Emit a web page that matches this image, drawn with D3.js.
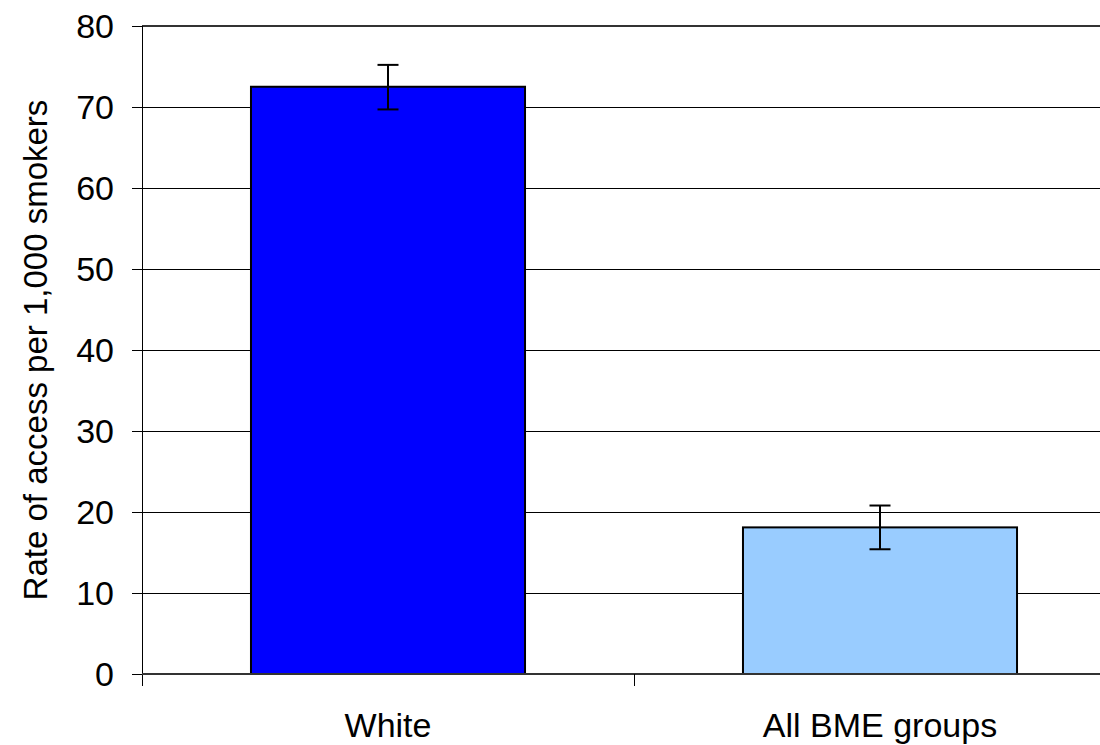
<!DOCTYPE html>
<html>
<head>
<meta charset="utf-8">
<script src="https://cdn.jsdelivr.net/npm/d3@7"></script>
<style>
  body { margin: 0; background: #fff; }
  text { font-family: "Liberation Sans", Arial, sans-serif; }
</style>
</head>
<body>
<div id="chart"></div>
<script>
// Chart data
const categories = ['White', 'All BME groups'];
const rates = [72.5, 18.1];
const errLow = [69.7, 15.4];
const errHigh = [75.2, 20.8];
const barColors = ['#0000FF', '#99CCFF'];
const yTicks = [0, 10, 20, 30, 40, 50, 60, 70, 80];

const W = 1100, H = 745;
const margin = { top: 26, right: -26, bottom: 71, left: 142 };
const width = W - margin.left - margin.right;
const height = H - margin.top - margin.bottom;

const svg = d3.select('#chart')
    .append('svg')
    .attr('width', W)
    .attr('height', H)
    .append('g')
    .attr('transform', `translate(${margin.left},${margin.top})`);

// Scales
const x = d3.scaleBand()
    .domain(categories)
    .range([0, width])
    .paddingInner(0.443)
    .paddingOuter(0.2215);

const y = d3.scaleLinear()
    .domain([0, 80])
    .range([height, 0]);

// Grid lines
svg.append('g')
    .attr('shape-rendering', 'crispEdges')
    .selectAll('line')
    .data(yTicks.filter(d => d > 0))
    .join('line')
    .attr('x1', 0)
    .attr('x2', width)
    .attr('y1', d => y(d))
    .attr('y2', d => y(d))
    .attr('stroke', d => d === 80 ? '#333' : '#000')
    .attr('stroke-width', d => d === 80 ? 2 : 1);

// Bars
svg.selectAll('.bar')
    .data(categories)
    .join('rect')
    .attr('class', 'bar')
    .attr('x', d => x(d))
    .attr('y', (d, i) => y(rates[i]))
    .attr('width', x.bandwidth())
    .attr('height', (d, i) => height - y(rates[i]))
    .attr('fill', (d, i) => barColors[i])
    .attr('stroke', '#000')
    .attr('stroke-width', 2);

// Error bars
const cap = 10.5;
const err = svg.append('g').attr('stroke', '#000').attr('stroke-width', 2);
categories.forEach((c, i) => {
    const cx = x(c) + x.bandwidth() / 2;
    err.append('line')
        .attr('x1', cx).attr('x2', cx)
        .attr('y1', y(errLow[i])).attr('y2', y(errHigh[i]));
    err.append('line')
        .attr('x1', cx - cap).attr('x2', cx + cap)
        .attr('y1', y(errLow[i])).attr('y2', y(errLow[i]));
    err.append('line')
        .attr('x1', cx - cap).attr('x2', cx + cap)
        .attr('y1', y(errHigh[i])).attr('y2', y(errHigh[i]));
});

// Y axis
const yAxis = svg.append('g')
    .attr('shape-rendering', 'crispEdges')
    .call(d3.axisLeft(y).tickValues(yTicks).tickSize(10).tickPadding(18));
yAxis.select('.domain').attr('d', `M0,0V${height + 12}`).attr('stroke', '#000');
yAxis.selectAll('.tick line').attr('stroke', '#000');
yAxis.selectAll('text')
    .attr('fill', '#000')
    .style('font-size', '34px')
    .attr('dy', '0.34em');

// X axis
const xAxis = svg.append('g')
    .attr('transform', `translate(0,${height})`)
    .call(d3.axisBottom(x).tickSize(0).tickPadding(39));
xAxis.select('.domain').attr('d', `M0,0H${width}`).attr('stroke', '#333').attr('stroke-width', 2)
    .attr('shape-rendering', 'crispEdges');
xAxis.selectAll('text')
    .attr('fill', '#000')
    .style('font-size', '34px');

// Category divider ticks
svg.append('g')
    .attr('shape-rendering', 'crispEdges')
    .selectAll('line')
    .data(categories.slice(1))
    .join('line')
    .attr('x1', d => x(d) - x.step() * x.paddingInner() / 2)
    .attr('x2', d => x(d) - x.step() * x.paddingInner() / 2)
    .attr('y1', height)
    .attr('y2', height + 12)
    .attr('stroke', '#000');

// Y axis label
svg.append('text')
    .attr('transform', 'rotate(-90)')
    .attr('x', -height / 2)
    .attr('y', -95)
    .style('text-anchor', 'middle')
    .style('font-size', '33px')
    .text('Rate of access per 1,000 smokers');
</script>
</body>
</html>
